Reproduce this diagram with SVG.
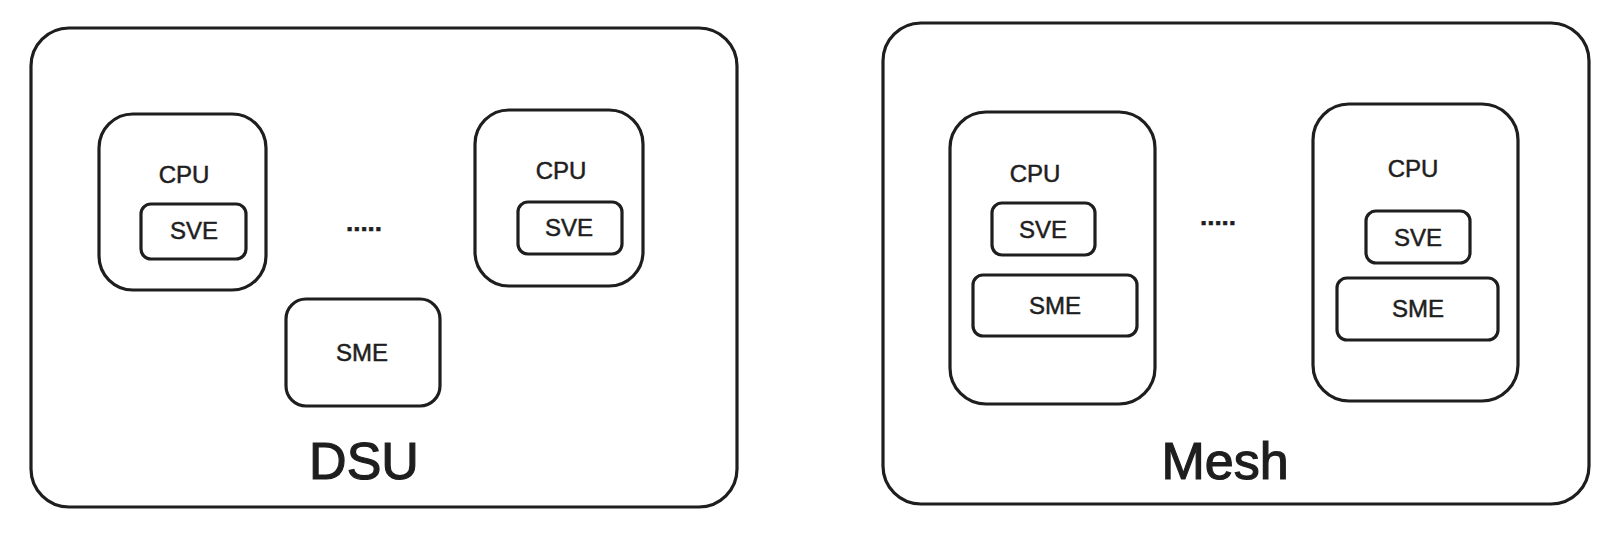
<svg xmlns="http://www.w3.org/2000/svg" width="1623" height="543" viewBox="0 0 1623 543">
<style>
.box{fill:none;stroke:#1e1e1e;stroke-width:3.2;stroke-linejoin:round}
.t{font-family:"Liberation Sans","DejaVu Sans",sans-serif;fill:#1e1e1e;stroke:#1e1e1e;stroke-width:0.5;text-anchor:middle;dominant-baseline:central}
.s{font-size:24px}
.b{font-size:52px;stroke-width:1.2}
.d{font-size:26px;font-weight:bold}
</style>
<rect width="1623" height="543" fill="#ffffff"/>
<g id="dsu">
<rect class="box" x="31" y="28" width="706" height="479" rx="38"/>
<text class="t b" x="364" y="461">DSU</text>
</g>
<g id="dsu-cpu1">
<rect class="box" x="99" y="114" width="167" height="176" rx="34"/>
<text class="t s" x="184" y="174">CPU</text>
</g>
<g id="dsu-cpu1-sve">
<rect class="box" x="141" y="204" width="105" height="55" rx="10"/>
<text class="t s" x="194" y="230">SVE</text>
</g>
<g id="dsu-dots"><text class="t d" x="364" y="222">.....</text></g>
<g id="dsu-cpu2">
<rect class="box" x="475" y="110" width="168" height="176" rx="34"/>
<text class="t s" x="561" y="170">CPU</text>
</g>
<g id="dsu-cpu2-sve">
<rect class="box" x="518" y="202" width="104" height="52" rx="10"/>
<text class="t s" x="569" y="227">SVE</text>
</g>
<g id="dsu-sme">
<rect class="box" x="286" y="299" width="154" height="107" rx="20"/>
<text class="t s" x="362" y="352">SME</text>
</g>
<g id="mesh">
<rect class="box" x="883" y="23" width="706" height="481" rx="38"/>
<text class="t b" x="1225" y="461">Mesh</text>
</g>
<g id="mesh-cpu1">
<rect class="box" x="950" y="112" width="205" height="292" rx="36"/>
<text class="t s" x="1035" y="173">CPU</text>
</g>
<g id="mesh-cpu1-sve">
<rect class="box" x="992" y="203" width="103" height="52" rx="10"/>
<text class="t s" x="1043" y="229">SVE</text>
</g>
<g id="mesh-cpu1-sme">
<rect class="box" x="973" y="275" width="164" height="61" rx="10"/>
<text class="t s" x="1055" y="305">SME</text>
</g>
<g id="mesh-dots"><text class="t d" x="1218" y="216">.....</text></g>
<g id="mesh-cpu2">
<rect class="box" x="1313" y="104" width="205" height="297" rx="36"/>
<text class="t s" x="1413" y="168">CPU</text>
</g>
<g id="mesh-cpu2-sve">
<rect class="box" x="1366" y="211" width="104" height="52" rx="10"/>
<text class="t s" x="1418" y="237">SVE</text>
</g>
<g id="mesh-cpu2-sme">
<rect class="box" x="1337" y="278" width="161" height="62" rx="10"/>
<text class="t s" x="1418" y="308">SME</text>
</g>
<g id="connectors"></g>
</svg>
